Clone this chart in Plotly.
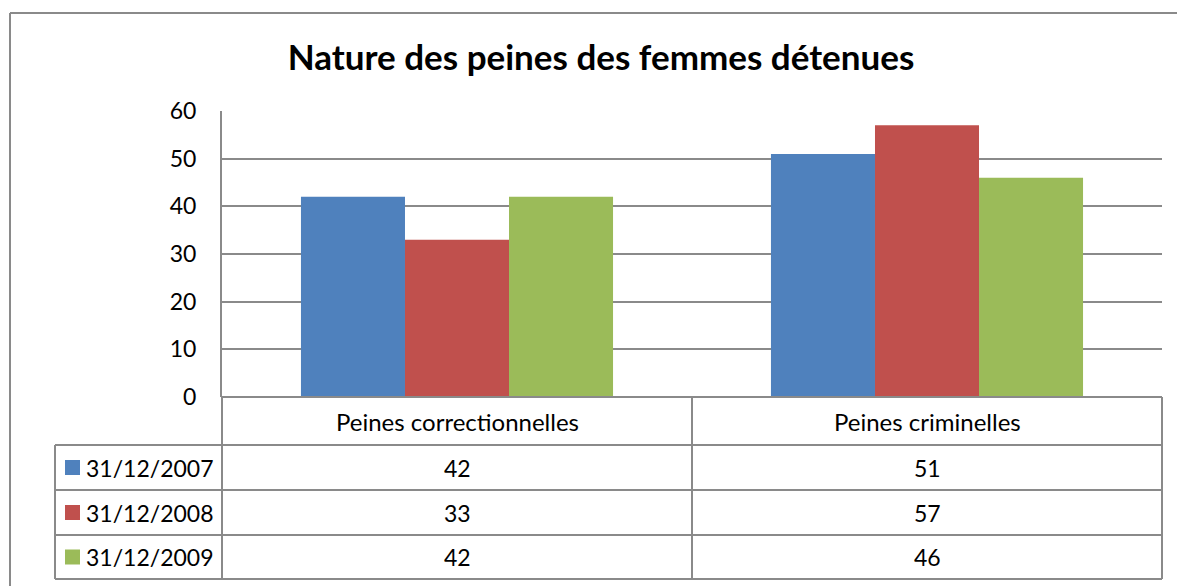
import plotly.graph_objects as go

categories = ["Peines correctionnelles", "Peines criminelles"]
series_names = ["31/12/2007", "31/12/2008", "31/12/2009"]
values_2007 = [42, 51]
values_2008 = [33, 57]
values_2009 = [42, 46]
series_values = [values_2007, values_2008, values_2009]
colors = ["#4F81BD", "#C0504D", "#9BBB59"]
y_ticks = [0, 10, 20, 30, 40, 50, 60]

OFF = 8  # page body margin
W, H = 1185 - OFF, 586 - OFF
FONT = "Lato"
GRID = "#8a8a8a"


def px(x):
    return (x - OFF) / W


def py(y):
    return (H - (y - OFF)) / H


fig = go.Figure()
for name, vals, col in zip(series_names, series_values, colors):
    fig.add_trace(go.Bar(x=categories, y=vals, name=name, marker=dict(color=col, line=dict(width=0)),
                         showlegend=False))

# plot area pixel geometry (screen pixels)
X0, X1, Y0, Y1 = 222, 1162, 397, 111
row_tops = [397, 445, 490, 535, 579]
LEG_X = 55
MID_X = 692

shapes = []
line = dict(color=GRID, width=2)
# outer frame
shapes.append(dict(type="line", xref="paper", yref="paper", x0=px(10), y0=py(13), x1=1.0, y1=py(13), line=line))
shapes.append(dict(type="line", xref="paper", yref="paper", x0=px(10), y0=py(13), x1=px(10), y1=0.0, line=line))
# table horizontals
shapes.append(dict(type="line", xref="paper", yref="paper", x0=px(X0), y0=py(row_tops[0]), x1=px(X1), y1=py(row_tops[0]), line=line))
for yy in row_tops[1:]:
    shapes.append(dict(type="line", xref="paper", yref="paper", x0=px(LEG_X), y0=py(yy), x1=px(X1), y1=py(yy), line=line))
# table verticals
for xx in [X0, MID_X, X1]:
    shapes.append(dict(type="line", xref="paper", yref="paper", x0=px(xx), y0=py(row_tops[0]), x1=px(xx), y1=py(row_tops[-1]), line=line))
shapes.append(dict(type="line", xref="paper", yref="paper", x0=px(LEG_X), y0=py(row_tops[1]), x1=px(LEG_X), y1=py(row_tops[-1]), line=line))

annotations = []
head_font = dict(family=FONT, size=24, color="#000000")
body_font = dict(family=FONT, size=23, color="#000000")
# header categories
for cat in categories:
    annotations.append(dict(x=cat, xref="x", y=py((row_tops[0] + row_tops[1]) / 2), yref="paper",
                            text=cat, showarrow=False, font=head_font, xanchor="center", yanchor="middle"))
# rows
for i, (name, vals, col) in enumerate(zip(series_names, series_values, colors)):
    yc = (row_tops[i + 1] + row_tops[i + 2]) / 2
    shapes.append(dict(type="rect", xref="paper", yref="paper", x0=px(65), x1=px(80),
                       y0=py(yc + 7.5), y1=py(yc - 7.5), fillcolor=col, line=dict(width=0)))
    annotations.append(dict(x=px(84), xref="paper", y=py(yc), yref="paper", text=name, showarrow=False,
                            font=body_font, xanchor="left", yanchor="middle"))
    for cat, v in zip(categories, vals):
        annotations.append(dict(x=cat, xref="x", y=py(yc), yref="paper", text=str(v), showarrow=False,
                                font=body_font, xanchor="center", yanchor="middle"))

fig.update_layout(
    width=W, height=H,
    margin=dict(l=0, r=0, t=0, b=0),
    paper_bgcolor="white", plot_bgcolor="white",
    barmode="group", bargap=0.336, bargroupgap=0,
    title=dict(text="Nature des peines des femmes détenues", x=px(601), xanchor="center",
               y=py(58), yanchor="middle", yref="paper", automargin=False,
               font=dict(family=FONT, size=35, color="#000000", weight="bold")),
    xaxis=dict(domain=[px(X0), px(X1)], showticklabels=False, showgrid=False, zeroline=False,
               showline=False, ticks="", automargin=False),
    yaxis=dict(domain=[py(Y0), py(Y1)], range=[0, 60], tickvals=y_ticks, showgrid=True,
               gridcolor=GRID, gridwidth=2, zeroline=False, showline=True, linecolor=GRID, linewidth=2,
               ticks="", ticklabelstandoff=19, automargin=False,
               tickfont=dict(family=FONT, size=23, color="#000000")),
    shapes=shapes,
    annotations=annotations,
)

fig.write_html("out.html")
